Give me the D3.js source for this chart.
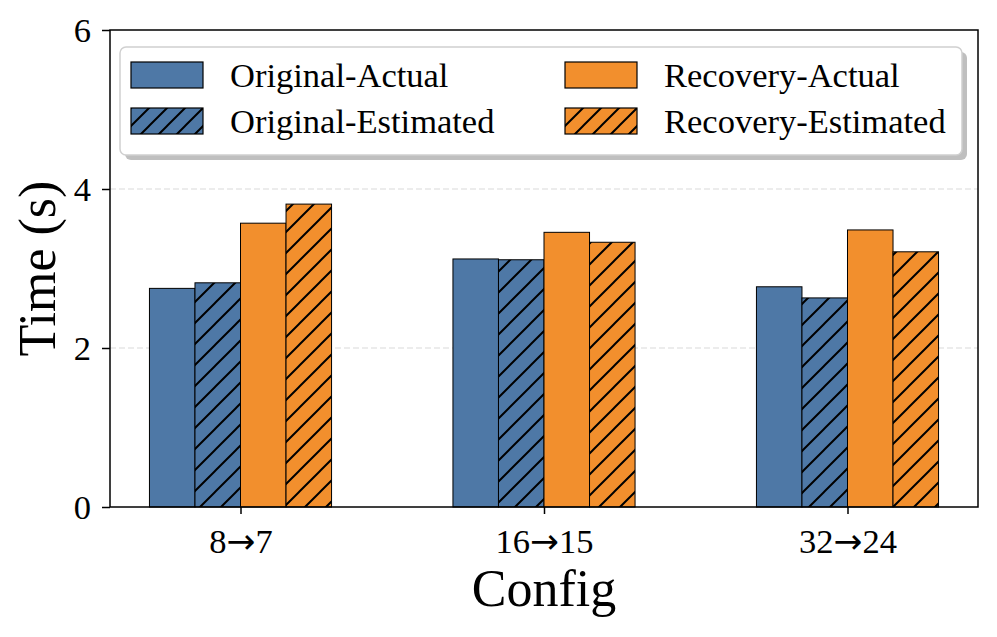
<!DOCTYPE html>
<html>
<head>
<meta charset="utf-8">
<script src="https://cdn.jsdelivr.net/npm/d3@7"></script>
<style>
  body { margin: 0; background: #fff; }
  text { font-family: "Liberation Serif", "DejaVu Serif", serif; }
</style>
</head>
<body>
<div id="chart"></div>
<script>
// data
var configs = ["8\u21927", "16\u219215", "32\u219224"];
var seriesNames = ["Original-Actual", "Original-Estimated", "Recovery-Actual", "Recovery-Estimated"];
var originalActual = [2.75, 3.12, 2.77];
var originalEstimated = [2.82, 3.11, 2.63];
var recoveryActual = [3.57, 3.455, 3.485];
var recoveryEstimated = [3.81, 3.33, 3.21];
var yTicks = [0, 2, 4, 6];

var seriesValues = [originalActual, originalEstimated, recoveryActual, recoveryEstimated];
var seriesColor = ["#4e78a6", "#4e78a6", "#f28f2d", "#f28f2d"];
var seriesHatch = [false, true, false, true];

var width = 997, height = 637;
var margin = {top: 30, right: 19, bottom: 130, left: 110};
var plotW = width - margin.left - margin.right;
var plotH = height - margin.top - margin.bottom;
var tickFont = 34.5;

var svg = d3.select('#chart')
  .append('svg')
  .attr('width', width)
  .attr('height', height);

// hatch patterns, one per colour
var defs = svg.append('defs');
function hatch(id, color, size) {
  var p = defs.append('pattern')
    .attr('id', id)
    .attr('patternUnits', 'userSpaceOnUse')
    .attr('width', size)
    .attr('height', size);
  p.append('rect').attr('width', size).attr('height', size).attr('fill', color);
  p.append('path')
    .attr('d', 'M0,' + size + ' L' + size + ',0 M' + (-size / 2) + ',' + (size / 2) + ' L' + (size / 2) + ',' + (-size / 2) +
      ' M' + (size / 2) + ',' + (size * 1.5) + ' L' + (size * 1.5) + ',' + (size / 2))
    .attr('stroke', '#000')
    .attr('stroke-width', 2);
}
hatch('hatchBlue', seriesColor[0], 21);
hatch('hatchOrange', seriesColor[2], 21);
hatch('hatchBlueLeg', seriesColor[0], 18);
hatch('hatchOrangeLeg', seriesColor[2], 18);

var g = svg.append('g')
  .attr('transform', 'translate(' + margin.left + ',' + margin.top + ')');

// matplotlib-like linear x: categories at 0,1,2 with 5% margins
var barW = 0.15;
var x = d3.scaleLinear()
  .domain([-0.3 - 0.13, 2.3 + 0.13])
  .range([0, plotW]);
var y = d3.scaleLinear()
  .domain([0, 6])
  .range([plotH, 0]);

// grid
g.selectAll('.grid')
  .data(yTicks.filter(function (d) { return d > 0 && d < 6; }))
  .enter()
  .append('line')
  .attr('x1', 0).attr('x2', plotW)
  .attr('y1', function (d) { return y(d); })
  .attr('y2', function (d) { return y(d); })
  .attr('stroke', '#d9d9d9')
  .attr('stroke-width', 1)
  .attr('stroke-dasharray', '6,3');

// bars
seriesValues.forEach(function (vals, s) {
  var fill = seriesHatch[s] ? (s < 2 ? 'url(#hatchBlue)' : 'url(#hatchOrange)') : seriesColor[s];
  g.selectAll('.bar' + s)
    .data(vals)
    .enter()
    .append('rect')
    .attr('x', function (d, i) { return x(i + (s - 2) * barW); })
    .attr('y', function (d) { return y(d); })
    .attr('width', x(barW) - x(0))
    .attr('height', function (d) { return y(0) - y(d); })
    .attr('fill', fill)
    .attr('stroke', '#000')
    .attr('stroke-width', 1);
});

// axes
var xAxis = g.append('g')
  .attr('transform', 'translate(0,' + plotH + ')')
  .call(d3.axisBottom(x).tickValues([0, 1, 2]).tickFormat(function (d) { return configs[d]; }).tickSize(7).tickSizeOuter(0));
var yAxis = g.append('g')
  .call(d3.axisLeft(y).tickValues(yTicks).tickFormat(d3.format('d')).tickSize(8).tickSizeOuter(0));
[xAxis, yAxis].forEach(function (a) {
  a.select('.domain').remove();
  a.selectAll('line').attr('stroke', '#000').attr('stroke-width', 1.5);
  a.selectAll('text').attr('font-size', tickFont).attr('fill', '#000')
    .style('font-family', '"Liberation Serif", serif');
});
yAxis.selectAll('text').attr('x', -19).attr('dy', '0.34em');
// arrow glyph from DejaVu Sans like matplotlib's fallback
xAxis.selectAll('text')
  .attr('y', 22).attr('dy', '0.71em')
  .each(function (d) {
    var parts = configs[d].split('\u2192');
    var t = d3.select(this).text(null);
    t.append('tspan').text(parts[0]);
    t.append('tspan').style('font-family', '"DejaVu Sans", sans-serif').text('\u2192');
    t.append('tspan').text(parts[1]);
  });

// frame
g.append('rect')
  .attr('width', plotW).attr('height', plotH)
  .attr('fill', 'none').attr('stroke', '#000').attr('stroke-width', 1.5);

// axis labels
svg.append('text')
  .attr('x', margin.left + x(1))
  .attr('y', 606)
  .attr('text-anchor', 'middle')
  .attr('font-size', 52)
  .text('Config');
svg.append('text')
  .attr('transform', 'translate(55,' + (margin.top + plotH / 2) + ') rotate(-90)')
  .attr('text-anchor', 'middle')
  .attr('font-size', 52)
  .text('Time (s)');

// legend
var leg = svg.append('g').attr('transform', 'translate(120,47)');
leg.append('rect')
  .attr('x', 5).attr('y', 5).attr('width', 842).attr('height', 108)
  .attr('rx', 6).attr('fill', '#bfbfbf');
leg.append('rect')
  .attr('x', 0).attr('y', 0).attr('width', 842).attr('height', 108)
  .attr('rx', 6).attr('fill', '#fff').attr('stroke', '#d0d0d0').attr('stroke-width', 1.5);
seriesNames.forEach(function (name, s) {
  var col = s < 2 ? 0 : 1;
  var row = s % 2;
  var item = leg.append('g')
    .attr('transform', 'translate(' + (11 + col * 434) + ',' + (15 + row * 46) + ')');
  item.append('rect')
    .attr('width', 72).attr('height', 26)
    .attr('fill', seriesHatch[s] ? (s < 2 ? 'url(#hatchBlueLeg)' : 'url(#hatchOrangeLeg)') : seriesColor[s])
    .attr('stroke', '#000').attr('stroke-width', 1.2);
  item.append('text')
    .attr('x', 99).attr('y', 13).attr('dy', '0.35em')
    .attr('font-size', tickFont)
    .text(name);
});
</script>
</body>
</html>
